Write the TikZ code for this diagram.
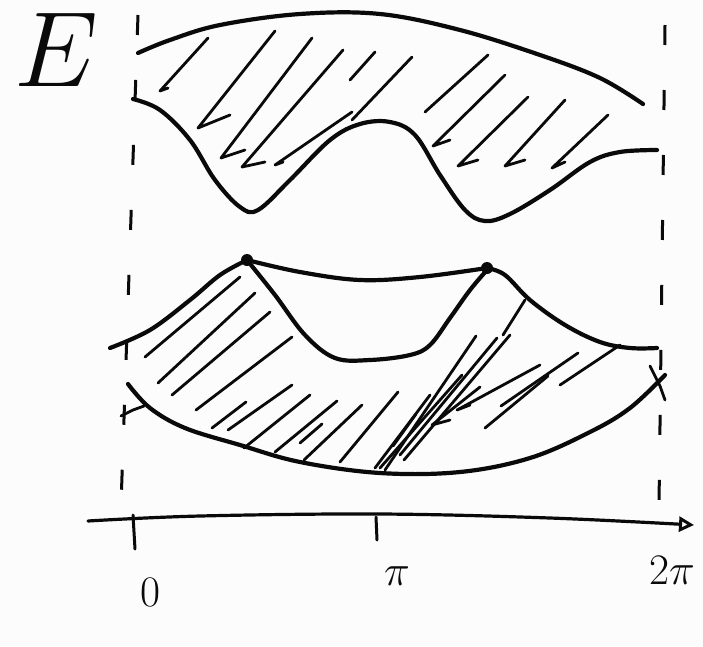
\documentclass[tikz,border=0pt]{standalone}
\usepackage{amsmath}
\usetikzlibrary{arrows.meta, positioning}
\definecolor{inkblack}{RGB}{10,10,10}
\definecolor{paperwhite}{RGB}{252,252,252}
\tikzset{
    band/.style={draw=inkblack, line width=4.2pt, line cap=round, line join=round},
    hatch/.style={draw=inkblack, line width=2.8pt, line cap=round, line join=round},
    guide/.style={draw=inkblack, line width=3pt, dash pattern=on 20pt off 45pt},
    axisline/.style={draw=inkblack, line width=3.2pt, line cap=round, -{Triangle[open, length=15pt, width=15pt, line width=3pt]}},
    ticklabel/.style={font=\Huge, scale=1.75, text=inkblack, inner sep=0pt},
    bigletter/.style={font=\Huge, scale=4.3, text=inkblack, inner sep=0pt},
    joint/.style={circle, fill=inkblack, inner sep=0pt, minimum size=12pt},
}

\begin{document}
\begin{tikzpicture}[x=1pt, y=-1pt]
\useasboundingbox[fill=paperwhite] (0,0) rectangle (703,646);

\node[bigletter] (energy) at (56,50) {$E$};

% dashed guides at 0 and 2pi
\draw[guide] (138,15) -- (121,505);
\draw[guide] (665,25) -- (659,505);

% upper band
\draw[band] plot[smooth, tension=0.6] coordinates {(138,53) (170,40) (220,25) (300,14) (380,14) (460,30) (540,55) (600,78) (643,104)};
\draw[band] plot[smooth, tension=0.6] coordinates {(133,99) (160,110) (190,140) (215,180) (240,207) (258,210) (290,180) (330,140) (360,124) (390,122) (415,135) (440,175) (465,210) (485,221) (510,214) (550,190) (590,162) (620,152) (657,150)};

\draw[hatch] (168,88) -- (160,91) -- (208,38);
\draw[hatch] (230,115) -- (198,128) -- (275,31);
\draw[hatch] (245,150) -- (221,158) -- (312,38);
\draw[hatch] (265,162) -- (242,167) -- (343,50);
\draw[hatch] (283,162) -- (275,165) -- (352,112);
\draw[hatch] (350,80) -- (375,52);
\draw[hatch] (352,120) -- (412,57);
\draw[hatch] (425,112) -- (488,55);
\draw[hatch] (450,140) -- (433,146) -- (505,75);
\draw[hatch] (478,160) -- (458,166) -- (528,97);
\draw[hatch] (525,160) -- (505,166) -- (565,100);
\draw[hatch] (565,162) -- (552,168) -- (608,115);

% lower band
\draw[band] plot[smooth, tension=0.6] coordinates {(110,348) (150,330) (190,300) (220,275) (247,260)};
\draw[band] plot[smooth, tension=0.6] coordinates {(247,260) (300,272) (360,280) (420,277) (487,268)};
\draw[band] plot[smooth, tension=0.6] coordinates {(247,260) (275,295) (305,335) (335,358) (370,360) (410,355) (430,345) (450,318) (470,290) (487,270)};
\draw[band] plot[smooth, tension=0.6] coordinates {(487,268) (505,275) (530,300) (565,325) (600,342) (630,348) (657,348)};
\draw[band] plot[smooth, tension=0.6] coordinates {(128,384) (150,408) (185,428) (240,445) (300,462) (380,473) (460,472) (530,458) (590,432) (630,408) (665,375)};

\node[joint] (peakleft) at (247,260) {};
\node[joint] (peakright) at (487,268) {};

\draw[hatch] (145,357) -- (240,277);
\draw[hatch] (158,383) -- (255,293);
\draw[hatch] (172,395) -- (270,312);
\draw[hatch] (196,410) -- (292,337);
\draw[hatch] (212,428) -- (246,402);
\draw[hatch] (228,430) -- (292,385);
\draw[hatch] (244,448) -- (310,395);
\draw[hatch] (275,452) -- (337,401);
\draw[hatch] (300,443) -- (322,424);
\draw[hatch] (304,460) -- (362,405);
\draw[hatch] (340,462) -- (398,392);
\draw[hatch] (375,468) -- (430,395);
\draw[hatch] (380,468) -- (462,375);
\draw[hatch] (385,470) -- (476,336);
\draw[hatch] (393,446) -- (416,414);
\draw[hatch] (400,455) -- (497,338);
\draw[hatch] (404,460) -- (510,335);
\draw[hatch] (503,335) -- (525,300);
\draw[hatch] (450,420) -- (432,425) -- (480,387);
\draw[hatch] (470,405) -- (457,410) -- (540,365);
\draw[hatch] (485,428) -- (548,376);
\draw[hatch] (501,406) -- (578,353);
\draw[hatch] (560,385) -- (620,345);
\draw[hatch] (121,416) -- (133,410) -- (144,406);
\draw[hatch] (650,366) -- (660,386) -- (665,400);

% theta axis
\draw[axisline] plot[smooth, tension=0.6] coordinates {(88,521) (200,516) (380,514) (550,518) (694,525)};
\draw[band, line width=3pt] (133,515) -- (135,549);
\draw[band, line width=3pt] (376,517) -- (377,540);

\node[ticklabel] (zero) at (150,592) {$0$};
\node[ticklabel] (pi) at (397,576) {$\pi$};
\node[ticklabel] (twopi) at (672,570) {$2\pi$};
\end{tikzpicture}
\end{document}
